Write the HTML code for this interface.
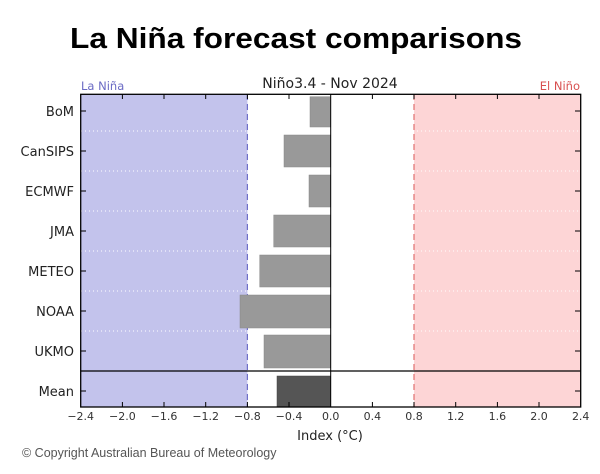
<!DOCTYPE html>
<html><head><meta charset="utf-8"><style>
html,body{margin:0;padding:0;background:#fff;}
svg{display:block;}
</style></head><body>
<svg width="600" height="474" xmlns="http://www.w3.org/2000/svg" font-family="'DejaVu Sans','Liberation Sans',sans-serif">
<text x="296" y="48" text-anchor="middle" font-family="'Liberation Sans',sans-serif" font-weight="bold" font-size="29" textLength="452" lengthAdjust="spacingAndGlyphs" fill="#000">La Niña forecast comparisons</text>
<!-- shaded regions -->
<rect x="80.7" y="94.3" width="166.7" height="312.7" fill="#c3c3ec"/>
<rect x="414" y="94.3" width="166.7" height="312.7" fill="#fdd5d6"/>
<!-- dotted separators -->
<g stroke="#fff" stroke-width="1" stroke-dasharray="1,3">
<line x1="81" y1="131" x2="580" y2="131"/><line x1="81" y1="171" x2="580" y2="171"/>
<line x1="81" y1="211" x2="580" y2="211"/><line x1="81" y1="251" x2="580" y2="251"/>
<line x1="81" y1="291" x2="580" y2="291"/><line x1="81" y1="331" x2="580" y2="331"/>
</g>
<line x1="247.4" y1="94" x2="247.4" y2="407" stroke="#7070c8" stroke-width="1.2" stroke-dasharray="6,4"/>
<line x1="414" y1="94" x2="414" y2="407" stroke="#e07070" stroke-width="1.2" stroke-dasharray="6,4"/>
<!-- bars -->
<g fill="#999" stroke="#888" stroke-width="0.5">
<rect x="310" y="96.7" width="20.7" height="30.3"/>
<rect x="284" y="135" width="46.7" height="32"/>
<rect x="309" y="175" width="21.7" height="32"/>
<rect x="273.7" y="215" width="57" height="32"/>
<rect x="259.7" y="255" width="71" height="32"/>
<rect x="240" y="295" width="90.7" height="33"/>
<rect x="264" y="335" width="66.7" height="33"/>
</g>
<rect x="277" y="376" width="53.7" height="31" fill="#555" stroke="#444" stroke-width="0.5"/>
<line x1="330.7" y1="94" x2="330.7" y2="407" stroke="#000" stroke-width="1"/>
<line x1="80.7" y1="371" x2="580.7" y2="371" stroke="#000" stroke-width="1.2"/>
<!-- frame -->
<rect x="80.7" y="94.3" width="500" height="312.7" fill="none" stroke="#000" stroke-width="1.3"/>
<!-- ticks -->
<g stroke="#000" stroke-width="1">
<line x1="122.4" y1="94" x2="122.4" y2="99"/><line x1="164" y1="94" x2="164" y2="99"/><line x1="205.7" y1="94" x2="205.7" y2="99"/><line x1="247.4" y1="94" x2="247.4" y2="99"/><line x1="289" y1="94" x2="289" y2="99"/><line x1="372.4" y1="94" x2="372.4" y2="99"/><line x1="414" y1="94" x2="414" y2="99"/><line x1="455.7" y1="94" x2="455.7" y2="99"/><line x1="497.4" y1="94" x2="497.4" y2="99"/><line x1="539" y1="94" x2="539" y2="99"/>
<line x1="122.4" y1="407" x2="122.4" y2="402"/><line x1="164" y1="407" x2="164" y2="402"/><line x1="205.7" y1="407" x2="205.7" y2="402"/><line x1="247.4" y1="407" x2="247.4" y2="402"/><line x1="289" y1="407" x2="289" y2="402"/><line x1="372.4" y1="407" x2="372.4" y2="402"/><line x1="414" y1="407" x2="414" y2="402"/><line x1="455.7" y1="407" x2="455.7" y2="402"/><line x1="497.4" y1="407" x2="497.4" y2="402"/><line x1="539" y1="407" x2="539" y2="402"/>
<line x1="81" y1="111" x2="86" y2="111"/><line x1="81" y1="151" x2="86" y2="151"/><line x1="81" y1="191" x2="86" y2="191"/><line x1="81" y1="231" x2="86" y2="231"/><line x1="81" y1="271" x2="86" y2="271"/><line x1="81" y1="311" x2="86" y2="311"/><line x1="81" y1="351" x2="86" y2="351"/><line x1="81" y1="391" x2="86" y2="391"/>
<line x1="580" y1="111" x2="575" y2="111"/><line x1="580" y1="151" x2="575" y2="151"/><line x1="580" y1="191" x2="575" y2="191"/><line x1="580" y1="231" x2="575" y2="231"/><line x1="580" y1="271" x2="575" y2="271"/><line x1="580" y1="311" x2="575" y2="311"/><line x1="580" y1="351" x2="575" y2="351"/><line x1="580" y1="391" x2="575" y2="391"/>
</g>
<!-- y labels -->
<g font-size="13" fill="#222" text-anchor="end">
<text x="74" y="116">BoM</text><text x="74" y="156">CanSIPS</text><text x="74" y="196">ECMWF</text><text x="74" y="236">JMA</text><text x="74" y="276">METEO</text><text x="74" y="316">NOAA</text><text x="74" y="356">UKMO</text><text x="74" y="396">Mean</text>
</g>
<!-- x labels -->
<g font-size="11" fill="#333" text-anchor="middle">
<text x="80.7" y="420">−2.4</text><text x="122.4" y="420">−2.0</text><text x="164" y="420">−1.6</text><text x="205.7" y="420">−1.2</text><text x="247.4" y="420">−0.8</text><text x="289" y="420">−0.4</text><text x="330.7" y="420">0.0</text><text x="372.4" y="420">0.4</text><text x="414" y="420">0.8</text><text x="455.7" y="420">1.2</text><text x="497.4" y="420">1.6</text><text x="539" y="420">2.0</text><text x="580.7" y="420">2.4</text>
</g>
<text x="330" y="440" font-size="13" fill="#222" text-anchor="middle">Index (°C)</text>
<text x="330" y="88" font-size="14" fill="#222" text-anchor="middle">Niño3.4 - Nov 2024</text>
<text x="81" y="90" font-size="11.5" fill="#6a6ac4">La Niña</text>
<text x="580" y="90" font-size="11.5" fill="#d85050" text-anchor="end">El Niño</text>
<text x="22" y="457" font-family="'Liberation Sans',sans-serif" font-size="12.5" fill="#555">© Copyright Australian Bureau of Meteorology</text>
</svg>
</body></html>
